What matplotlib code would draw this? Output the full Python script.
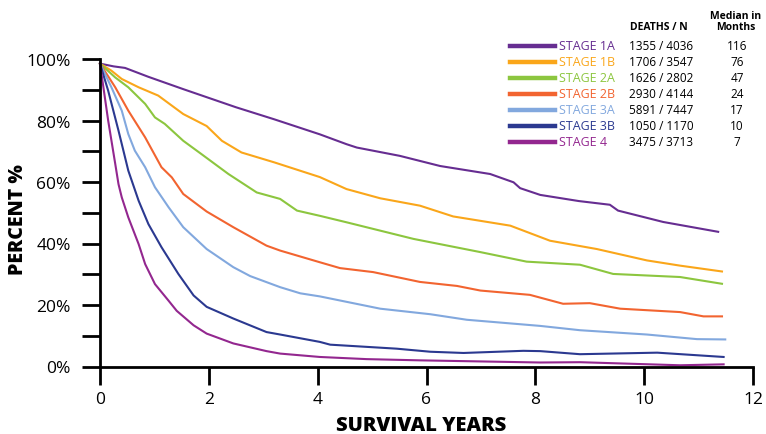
import numpy as np
import matplotlib.pyplot as plt
from matplotlib.lines import Line2D

plt.rcParams['font.family'] = ['Open Sans', 'DejaVu Sans']

# Дані кривих виживання (роки, відсоток)
stages = ["STAGE 1A", "STAGE 1B", "STAGE 2A", "STAGE 2B", "STAGE 3A", "STAGE 3B", "STAGE 4"]
deaths_n = ["1355 / 4036", "1706 / 3547", "1626 / 2802", "2930 / 4144",
            "5891 / 7447", "1050 / 1170", "3475 / 3713"]
median_months = ["116", "76", "47", "24", "17", "10", "7"]
colors = ["#662D91", "#FAA61A", "#8CC63F", "#F26430", "#82A8DE", "#2B3990", "#93278F"]

x_1a = [0, 0.25, 0.46, 0.89, 1.53, 2.5, 3.2, 4.04, 4.53, 4.72, 5.51, 6.25, 7.17, 7.6, 7.72,
        8.09, 8.8, 9.37, 9.52, 10.35, 11.36]
y_1a = [98.5, 97.6, 97.1, 94.2, 90.2, 84.3, 80.4, 75.5, 72.3, 71.2, 68.5, 65.2, 62.6, 59.9, 58,
        55.8, 53.8, 52.6, 50.7, 47, 43.8]

x_1b = [0, 0.21, 0.4, 0.71, 1.07, 1.53, 1.96, 2.24, 2.6, 3.2, 4.04, 4.53, 5.15, 5.88, 6.49,
        7.54, 8.27, 9.13, 10.05, 10.66, 11.43]
y_1b = [98.5, 96.2, 93.5, 90.8, 88.1, 82.1, 78.2, 73.4, 69.6, 66.4, 61.6, 57.7, 54.7, 52.3, 48.8,
        45.8, 40.9, 38.2, 34.5, 32.8, 30.9]

x_2a = [0, 0.28, 0.52, 0.83, 1.01, 1.19, 1.53, 1.87, 2.36, 2.88, 3.31, 3.62, 4.04, 4.53, 5.76,
        6.99, 7.84, 8.82, 9.43, 10.66, 11.43]
y_2a = [98.5, 94, 90.8, 85.4, 81, 78.9, 73.4, 69, 62.6, 56.6, 54.5, 50.7, 49, 46.9, 41.5,
        37.2, 34.1, 33.1, 30.1, 29.1, 26.9]

x_2b = [0, 0.28, 0.52, 0.83, 1.13, 1.32, 1.53, 1.96, 2.45, 3.06, 3.31, 4.04, 4.41, 5.02, 5.88,
        6.56, 6.99, 7.9, 8.51, 9.0, 9.56, 10.66, 11.09, 11.43]
y_2b = [98.5, 90.8, 83.2, 74.5, 64.8, 61.5, 56.1, 50.4, 45.3, 39.3, 37.7, 33.9, 32, 30.7, 27.5,
        26.2, 24.7, 23.3, 20.4, 20.6, 18.8, 17.7, 16.3, 16.3]

x_3a = [0, 0.21, 0.4, 0.52, 0.64, 0.83, 1.01, 1.26, 1.53, 1.96, 2.45, 2.76, 3.31, 3.68, 4.04,
        5.15, 6.07, 6.74, 8.09, 8.82, 10.05, 10.97, 11.49]
y_3a = [98.5, 90.8, 83.2, 75.6, 70.2, 64.8, 58.3, 51.8, 45.3, 38.2, 32.3, 29.4, 25.8, 23.8, 22.8,
        18.8, 17, 15.2, 13.2, 11.8, 10.4, 8.9, 8.8]

x_3b = [0, 0.15, 0.34, 0.52, 0.71, 0.89, 1.13, 1.44, 1.72, 1.96, 2.45, 3.06, 3.31, 4.04, 4.23,
        5.45, 6.07, 6.68, 7.78, 8.09, 8.82, 10.24, 11.46]
y_3b = [98.5, 89.7, 76.7, 63.7, 53.9, 46.3, 38.8, 30.1, 23.1, 19.4, 15.6, 11.2, 10.4, 8, 7.1,
        5.8, 4.8, 4.4, 5.1, 5.0, 4, 4.5, 3.1]

x_4 = [0, 0.15, 0.28, 0.34, 0.4, 0.52, 0.71, 0.83, 1.01, 1.26, 1.41, 1.72, 1.96, 2.45, 3.06,
       3.31, 4.04, 4.9, 5.88, 8.09, 8.82, 10.66, 11.46]
y_4 = [98.5, 80, 65.9, 59.3, 55, 48.5, 39.8, 33.3, 26.8, 21.4, 18.1, 13.4, 10.7, 7.5, 5,
       4.2, 3.1, 2.4, 2.0, 1.3, 1.4, 0.4, 0.7]

xs = [x_1a, x_1b, x_2a, x_2b, x_3a, x_3b, x_4]
ys = [y_1a, y_1b, y_2a, y_2b, y_3a, y_3b, y_4]

W, H = 766, 435
fig = plt.figure(figsize=(W / 100, H / 100), dpi=100)
ax = fig.add_axes([100 / W, 67.5 / H, 653 / W, 307.5 / H])

for xv, yv, c in zip(xs, ys, colors):
    ax.plot(xv, yv, color=c, lw=1.5, clip_on=False, solid_joinstyle="round")

ax.set_xlim(0, 12)
ax.set_ylim(0, 100)
ax.set_xticks(np.arange(0, 13, 2))
ax.set_yticks(np.arange(0, 101, 20))
ax.set_yticks(np.arange(10, 100, 20), minor=True)
ax.set_yticklabels([f"{v}%" for v in range(0, 101, 20)])
for s in ["top", "right"]:
    ax.spines[s].set_visible(False)
for s in ["left", "bottom"]:
    ax.spines[s].set_linewidth(2)
ax.tick_params(axis="y", which="both", length=13, width=2, pad=8, labelsize=12.5, color="black")
ax.tick_params(axis="x", length=13, width=2, pad=5, labelsize=12.5)


def fx(px):
    return px / W


def fy(py):
    return 1 - py / H


fig.text(fx(18), fy(220), "PERCENT %", rotation=90, ha="center", va="center",
         fontsize=14, fontweight="heavy")
fig.text(fx(421), fy(426), "SURVIVAL YEARS", ha="center", va="center",
         fontsize=14.5, fontweight="heavy")

# Легенда-таблиця
fig.text(fx(659), fy(28), "DEATHS / N", ha="center", va="center", fontsize=7.5, fontweight="bold")
fig.text(fx(736), fy(22), "Median in\nMonths", ha="center", va="center", fontsize=7.5,
         fontweight="bold", linespacing=0.95)
for i, (st, dn, md, c) in enumerate(zip(stages, deaths_n, median_months, colors)):
    yy = fy(47 + 16 * i)
    fig.add_artist(Line2D([fx(510), fx(555)], [yy, yy], color=c, lw=3.2, transform=fig.transFigure))
    fig.text(fx(559), yy, st, color=c, fontsize=9, va="center", ha="left")
    fig.text(fx(629), yy, dn, fontsize=8.5, va="center", ha="left")
    fig.text(fx(737), yy, md, fontsize=8.5, va="center", ha="center")

fig.savefig("out.png", dpi=100)
